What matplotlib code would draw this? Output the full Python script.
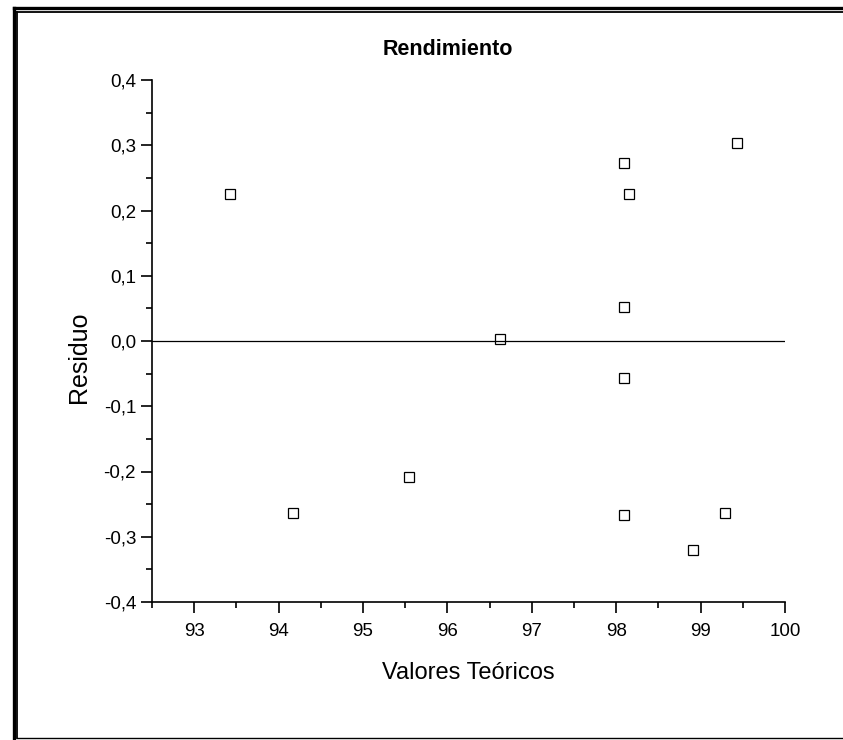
import matplotlib.pyplot as plt
from matplotlib.lines import Line2D

plt.rcParams['font.family'] = ['Liberation Sans', 'DejaVu Sans']

# data
teoricos = [93.43, 94.17, 95.54, 96.62, 98.09, 98.15, 98.09, 98.09, 98.09, 98.91, 99.29, 99.43]
residuos = [0.225, -0.263, -0.208, 0.003, 0.273, 0.225, 0.052, -0.057, -0.267, -0.320, -0.264, 0.303]
xticks = [93, 94, 95, 96, 97, 98, 99, 100]
yticks = [-0.4, -0.3, -0.2, -0.1, 0.0, 0.1, 0.2, 0.3, 0.4]

W, H = 843, 740
fig = plt.figure(figsize=(W / 100, H / 100), dpi=100)
ax = fig.add_axes([152 / W, 1 - 602 / H, 633 / W, 522 / H])

ax.plot(teoricos, residuos, ls='none', marker='s', ms=6.5, mfc='white',
        mec='black', mew=0.9)
ax.axhline(0, color='black', lw=0.9)

ax.set_xlim(92.5, 100)
ax.set_ylim(-0.4, 0.4)
ax.set_xticks(xticks)
ax.set_xticks([x + 0.5 for x in [92] + xticks[:-1]], minor=True)
ax.set_yticks(yticks)
ax.set_yticks([y + 0.05 for y in yticks[:-1]], minor=True)
ax.set_yticklabels([('%.1f' % y).replace('.', ',') for y in yticks])
ax.tick_params(which='major', direction='out', length=8, width=1.2, labelsize=13.5)
ax.tick_params(axis='x', which='major', pad=7)
ax.tick_params(which='minor', direction='out', length=4.5, width=1.2)
for s in ['top', 'right']:
    ax.spines[s].set_visible(False)
for s in ['left', 'bottom']:
    ax.spines[s].set_linewidth(1.2)

ax.set_title('Rendimiento', fontsize=15.5, fontweight='bold', pad=18, x=0.4676)
ax.set_xlabel('Valores Teóricos', fontsize=17, labelpad=16)
ax.set_ylabel('Residuo', fontsize=18, labelpad=9)
ax.yaxis.label.set_y(0.469)

# double frame round the picture
def fx(p):
    return p / W

def fy(p):
    return 1 - p / H

fig.add_artist(Line2D([fx(13.5), fx(13.5)], [fy(7.5), fy(740)], color='black', lw=2.4))
fig.add_artist(Line2D([fx(13.5), fx(843)], [fy(7.5), fy(7.5)], color='black', lw=2.4))
fig.add_artist(Line2D([fx(17.2), fx(17.2)], [fy(12), fy(738)], color='black', lw=1.3))
fig.add_artist(Line2D([fx(17.2), fx(843)], [fy(12), fy(12)], color='black', lw=1.3))
fig.add_artist(Line2D([fx(17.2), fx(843)], [fy(738), fy(738)], color='black', lw=1.0))

fig.savefig('out.png', dpi=100)
